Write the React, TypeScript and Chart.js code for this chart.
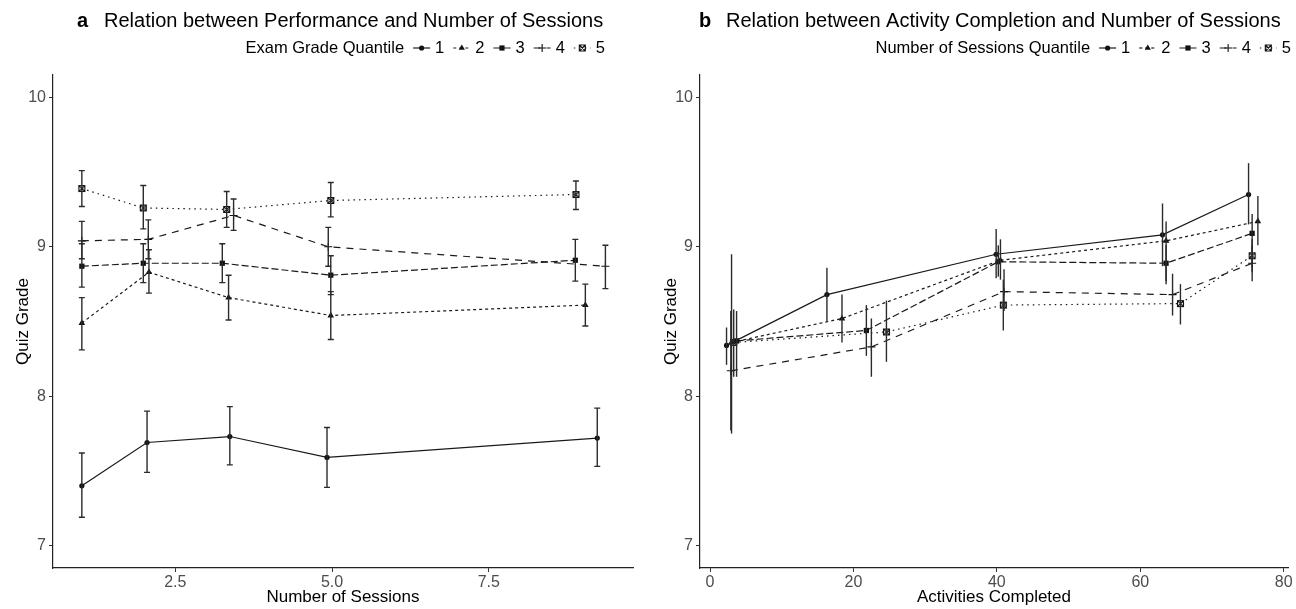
import React, { useEffect, useRef } from 'react';
import { Chart, registerables } from 'chart.js';

Chart.register(...registerables);

const FONT = '"Liberation Sans", Arial, Helvetica, sans-serif';

const seriesLabels = ['1', '2', '3', '4', '5'];
const markerStyles = ['circle', 'triangle', 'rect', 'cross', 'boxX'];
const lineDashes: number[][] = [[], [3, 3], [7, 3], [7, 6], [1.5, 4]];

// ---------- Panel a: Quiz grade vs number of sessions ----------
const aX1 = [1.01, 2.05, 3.37, 4.92, 9.23];
const aY1 = [7.40, 7.69, 7.73, 7.59, 7.72];
const aLo1 = [7.19, 7.49, 7.54, 7.39, 7.53];
const aHi1 = [7.62, 7.90, 7.93, 7.79, 7.92];

const aX2 = [1.01, 2.08, 3.35, 4.98, 9.04];
const aY2 = [8.49, 8.83, 8.66, 8.54, 8.61];
const aLo2 = [8.31, 8.69, 8.51, 8.38, 8.47];
const aHi2 = [8.66, 8.98, 8.81, 8.70, 8.75];

const aX3 = [1.01, 1.99, 3.25, 4.98, 8.88];
const aY3 = [8.87, 8.89, 8.89, 8.81, 8.91];
const aLo3 = [8.73, 8.76, 8.76, 8.68, 8.77];
const aHi3 = [9.02, 9.02, 9.02, 8.94, 9.05];

const aX4 = [1.01, 2.07, 3.43, 4.94, 9.36];
const aY4 = [9.04, 9.05, 9.21, 9.00, 8.87];
const aLo4 = [8.92, 8.92, 9.11, 8.87, 8.72];
const aHi4 = [9.17, 9.18, 9.32, 9.13, 9.01];

const aX5 = [1.01, 1.99, 3.32, 4.98, 8.89];
const aY5 = [9.39, 9.26, 9.25, 9.31, 9.35];
const aLo5 = [9.27, 9.12, 9.13, 9.20, 9.25];
const aHi5 = [9.51, 9.41, 9.37, 9.43, 9.44];

const aXTicks = [2.5, 5.0, 7.5];

// ---------- Panel b: Quiz grade vs activities completed ----------
const bX1 = [2.3, 16.3, 39.9, 63.1, 75.1];
const bY1 = [8.34, 8.68, 8.95, 9.08, 9.35];
const bLo1 = [8.21, 8.50, 8.79, 8.87, 9.15];
const bHi1 = [8.46, 8.86, 9.12, 9.29, 9.56];

const bX2 = [3.0, 18.4, 40.5, 63.6, 76.4];
const bY2 = [8.36, 8.52, 8.91, 9.04, 9.17];
const bLo2 = [7.75, 8.36, 8.78, 8.75, 9.01];
const bHi2 = [8.95, 8.68, 9.05, 9.17, 9.34];

const bX3 = [3.7, 21.8, 40.2, 63.6, 75.6];
const bY3 = [8.37, 8.44, 8.90, 8.89, 9.09];
const bLo3 = [8.13, 8.27, 8.80, 8.77, 8.96];
const bHi3 = [8.57, 8.61, 9.01, 9.01, 9.22];

const bX4 = [2.9, 22.5, 41.0, 64.5, 75.6];
const bY4 = [8.17, 8.33, 8.70, 8.68, 8.89];
const bLo4 = [7.77, 8.13, 8.57, 8.54, 8.77];
const bHi4 = [8.57, 8.52, 8.85, 8.82, 9.01];

const bX5 = [3.3, 24.6, 40.9, 65.6, 75.6];
const bY5 = [8.36, 8.43, 8.61, 8.62, 8.94];
const bLo5 = [8.13, 8.23, 8.44, 8.48, 8.83];
const bHi5 = [8.58, 8.64, 8.78, 8.75, 9.05];

const bXTicks = [0, 20, 40, 60, 80];

const yTicks = [7, 8, 9, 10];

type PanelDef = {
  letter: string;
  title: string;
  legendTitle: string;
  xTitle: string;
  xs: number[][];
  ys: number[][];
  los: number[][];
  his: number[][];
  xMin: number;
  xMax: number;
  xTicks: number[];
  xFmt: (v: number) => string;
  cap: number;
  padRight: number;
  letterX: number;
  titleTextX: number;
  legendEnd: number;
};

const panelA: PanelDef = {
  letter: 'a',
  title: 'Relation between Performance and Number of Sessions',
  legendTitle: 'Exam Grade Quantile',
  xTitle: 'Number of Sessions',
  xs: [aX1, aX2, aX3, aX4, aX5],
  ys: [aY1, aY2, aY3, aY4, aY5],
  los: [aLo1, aLo2, aLo3, aLo4, aLo5],
  his: [aHi1, aHi2, aHi3, aHi4, aHi5],
  xMin: 0.55,
  xMax: 9.8,
  xTicks: aXTicks,
  xFmt: (v) => v.toFixed(1),
  cap: 3,
  padRight: 15,
  letterX: 77,
  titleTextX: 104,
  legendEnd: 605,
};

const panelB: PanelDef = {
  letter: 'b',
  title: 'Relation between Activity Completion and Number of Sessions',
  legendTitle: 'Number of Sessions Quantile',
  xTitle: 'Activities Completed',
  xs: [bX1, bX2, bX3, bX4, bX5],
  ys: [bY1, bY2, bY3, bY4, bY5],
  los: [bLo1, bLo2, bLo3, bLo4, bLo5],
  his: [bHi1, bHi2, bHi3, bHi4, bHi5],
  xMin: -1.4,
  xMax: 80.6,
  xTicks: bXTicks,
  xFmt: (v) => String(v),
  cap: 0,
  padRight: 8,
  letterX: 51,
  titleTextX: 78,
  legendEnd: 643,
};

function drawMarker(ctx: CanvasRenderingContext2D, style: string, x: number, y: number) {
  ctx.save();
  ctx.setLineDash([]);
  ctx.fillStyle = '#111';
  ctx.strokeStyle = '#111';
  ctx.lineWidth = 1.1;
  ctx.beginPath();
  if (style === 'circle') {
    ctx.arc(x, y, 2.6, 0, Math.PI * 2);
    ctx.fill();
  } else if (style === 'triangle') {
    const r = 3.6;
    ctx.moveTo(x, y - r);
    ctx.lineTo(x + r * 0.866, y + r * 0.5);
    ctx.lineTo(x - r * 0.866, y + r * 0.5);
    ctx.closePath();
    ctx.fill();
  } else if (style === 'rect') {
    ctx.rect(x - 2.6, y - 2.6, 5.2, 5.2);
    ctx.fill();
  } else if (style === 'cross') {
    ctx.moveTo(x - 4, y);
    ctx.lineTo(x + 4, y);
    ctx.moveTo(x, y - 4);
    ctx.lineTo(x, y + 4);
    ctx.stroke();
  } else {
    ctx.rect(x - 3, y - 3, 6, 6);
    ctx.moveTo(x - 3, y - 3);
    ctx.lineTo(x + 3, y + 3);
    ctx.moveTo(x + 3, y - 3);
    ctx.lineTo(x - 3, y + 3);
    ctx.stroke();
  }
  ctx.restore();
}

function makeBoxXCanvas(): HTMLCanvasElement {
  const c = document.createElement('canvas');
  c.width = 9;
  c.height = 9;
  const ctx = c.getContext('2d')!;
  drawMarker(ctx, 'boxX', 4.5, 4.5);
  return c;
}

function buildChart(canvas: HTMLCanvasElement, p: PanelDef) {
  const boxX = makeBoxXCanvas();
  const pointStyles: any[] = ['circle', 'triangle', 'rect', 'cross', boxX];
  const pointRadii = [2.6, 3.8, 3.7, 4, 4.5];

  const datasets = seriesLabels.map((lab, i) => ({
    label: lab,
    data: p.xs[i].map((x, j) => ({ x, y: p.ys[i][j] })),
    showLine: true,
    borderColor: '#1a1a1a',
    borderWidth: 1.2,
    borderDash: lineDashes[i],
    pointStyle: pointStyles[i],
    pointRadius: pointRadii[i],
    pointBackgroundColor: '#111',
    pointBorderColor: '#111',
    pointBorderWidth: i === 3 ? 1.1 : 0,
    fill: false,
    tension: 0,
  }));

  const errorBarPlugin = {
    id: 'errorBars' + p.letter,
    afterDatasetsDraw(chart: any) {
      const ctx = chart.ctx as CanvasRenderingContext2D;
      const xs = chart.scales.x;
      const ys = chart.scales.y;
      ctx.save();
      ctx.strokeStyle = '#2b2b2b';
      ctx.lineWidth = 1.4;
      ctx.setLineDash([]);
      for (let i = 0; i < p.xs.length; i++) {
        for (let j = 0; j < p.xs[i].length; j++) {
          const px = xs.getPixelForValue(p.xs[i][j]);
          const top = ys.getPixelForValue(p.his[i][j]);
          const bot = ys.getPixelForValue(p.los[i][j]);
          ctx.beginPath();
          ctx.moveTo(px, top);
          ctx.lineTo(px, bot);
          if (p.cap > 0) {
            ctx.moveTo(px - p.cap, top);
            ctx.lineTo(px + p.cap, top);
            ctx.moveTo(px - p.cap, bot);
            ctx.lineTo(px + p.cap, bot);
          }
          ctx.stroke();
        }
      }
      ctx.restore();
    },
  };

  const headerPlugin = {
    id: 'header' + p.letter,
    afterDraw(chart: any) {
      const ctx = chart.ctx as CanvasRenderingContext2D;
      ctx.save();
      ctx.textBaseline = 'middle';
      ctx.textAlign = 'left';
      ctx.fillStyle = '#000';
      ctx.font = `bold 20px ${FONT}`;
      ctx.fillText(p.letter, p.letterX, 21);
      ctx.font = `20px ${FONT}`;
      ctx.fillText(p.title, p.titleTextX, 21);

      // legend
      const ly = 48;
      ctx.font = `16.5px ${FONT}`;
      const keyW = 17;
      const gapKL = 5;
      const gapItem = 9;
      const gapTitle = 9;
      let total = ctx.measureText(p.legendTitle).width + gapTitle;
      seriesLabels.forEach((l, i) => {
        total += keyW + gapKL + ctx.measureText(l).width + (i < seriesLabels.length - 1 ? gapItem : 0);
      });
      let x = p.legendEnd - total;
      ctx.fillText(p.legendTitle, x, ly);
      x += ctx.measureText(p.legendTitle).width + gapTitle;
      seriesLabels.forEach((l, i) => {
        ctx.save();
        ctx.strokeStyle = '#1a1a1a';
        ctx.lineWidth = 1.2;
        ctx.setLineDash(lineDashes[i]);
        ctx.beginPath();
        ctx.moveTo(x, ly);
        ctx.lineTo(x + keyW, ly);
        ctx.stroke();
        ctx.restore();
        drawMarker(ctx, markerStyles[i], x + keyW / 2, ly);
        x += keyW + gapKL;
        ctx.fillStyle = '#000';
        ctx.fillText(l, x, ly);
        x += ctx.measureText(l).width + gapItem;
      });
      ctx.restore();
    },
  };

  return new Chart(canvas, {
    type: 'scatter',
    data: { datasets: datasets as any },
    options: {
      animation: false,
      responsive: false,
      maintainAspectRatio: false,
      layout: { padding: { left: 0, right: p.padRight, top: 75, bottom: 0 } },
      plugins: {
        legend: { display: false },
        title: { display: false },
        tooltip: { enabled: false },
      },
      scales: {
        x: {
          type: 'linear',
          min: p.xMin,
          max: p.xMax,
          afterBuildTicks: (s: any) => {
            s.ticks = p.xTicks.map((v) => ({ value: v }));
          },
          afterFit: (s: any) => {
            s.height = 41;
          },
          ticks: {
            font: { family: FONT, size: 16 },
            color: '#4d4d4d',
            padding: 1,
            maxRotation: 0,
            autoSkip: false,
            callback: (v: any) => p.xFmt(Number(v)),
          },
          grid: {
            display: true,
            drawOnChartArea: false,
            drawTicks: true,
            tickLength: 4,
            color: '#333',
            lineWidth: 1,
          },
          border: { display: true, color: '#222', width: 1.2 },
          title: {
            display: true,
            text: p.xTitle,
            font: { family: FONT, size: 17 },
            color: '#000',
            padding: { top: 0, bottom: 1 },
          },
        },
        y: {
          type: 'linear',
          min: 6.85,
          max: 10.15,
          afterBuildTicks: (s: any) => {
            s.ticks = yTicks.map((v) => ({ value: v }));
          },
          afterFit: (s: any) => {
            s.width = p.letter === 'a' ? 53 : 52;
          },
          ticks: {
            font: { family: FONT, size: 16 },
            color: '#4d4d4d',
            padding: 3,
            autoSkip: false,
            callback: (v: any) => String(v),
          },
          grid: {
            display: true,
            drawOnChartArea: false,
            drawTicks: true,
            tickLength: 4,
            color: '#333',
            lineWidth: 1,
          },
          border: { display: true, color: '#222', width: 1.2 },
          title: {
            display: true,
            text: 'Quiz Grade',
            font: { family: FONT, size: 17 },
            color: '#000',
            padding: { top: 13, bottom: 0 },
          },
        },
      },
    } as any,
    plugins: [errorBarPlugin, headerPlugin],
  });
}

function Panel({ def, left }: { def: PanelDef; left: number }) {
  const ref = useRef<HTMLCanvasElement | null>(null);
  useEffect(() => {
    if (!ref.current) return;
    const chart = buildChart(ref.current, def);
    return () => chart.destroy();
  }, [def]);
  return (
    <canvas
      ref={ref}
      width={648}
      height={609}
      style={{ position: 'absolute', left, top: 0, width: 648, height: 609 }}
    />
  );
}

export default function App() {
  return (
    <div
      style={{
        position: 'absolute',
        left: 0,
        top: 0,
        width: 1296,
        height: 609,
        background: '#fff',
        overflow: 'hidden',
      }}
    >
      <Panel def={panelA} left={0} />
      <Panel def={panelB} left={648} />
    </div>
  );
}
